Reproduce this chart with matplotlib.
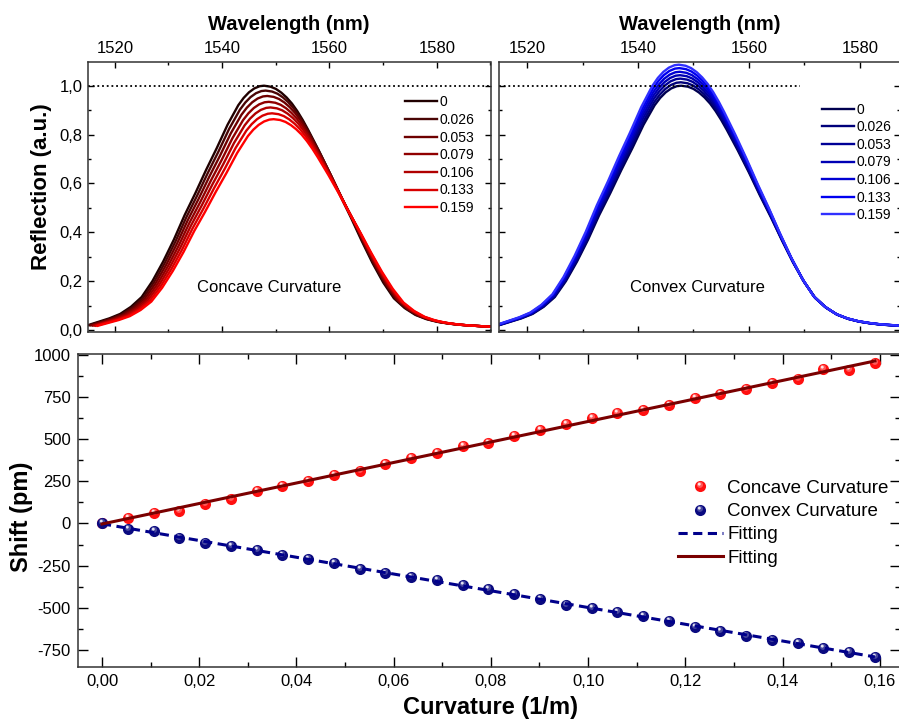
import numpy as np
import matplotlib
matplotlib.use("Agg")
import matplotlib.pyplot as plt
from matplotlib.ticker import MultipleLocator, FuncFormatter
from matplotlib.path import Path
from matplotlib.legend_handler import HandlerTuple

plt.rcParams['font.family'] = ['Liberation Sans', 'DejaVu Sans']
plt.rcParams['axes.unicode_minus'] = False

# reflection spectrum of the unbent grating
base_wl = [1515, 1517, 1519, 1521, 1523, 1525, 1527, 1529, 1531, 1533, 1535, 1537,
           1539, 1541, 1543, 1544, 1545, 1546, 1547, 1547.8, 1549, 1550, 1551, 1552,
           1553, 1554, 1555, 1556, 1558, 1560, 1562, 1564, 1566, 1568, 1570, 1572,
           1574, 1576, 1578, 1580, 1582, 1584, 1586, 1588, 1590]
base_r = [0.020, 0.034, 0.048, 0.066, 0.095, 0.135, 0.200, 0.280, 0.370, 0.470, 0.560, 0.655,
          0.745, 0.840, 0.920, 0.950, 0.973, 0.989, 0.998, 1.000, 0.996, 0.987, 0.972, 0.952,
          0.927, 0.896, 0.860, 0.820, 0.735, 0.645, 0.550, 0.460, 0.365, 0.275, 0.195, 0.130,
          0.090, 0.062, 0.045, 0.034, 0.027, 0.022, 0.019, 0.016, 0.014]
base_peak_wl = 1547.8

legend_labels = ['0', '0.026', '0.053', '0.079', '0.106', '0.133', '0.159']

# concave: peak position / height of each spectrum
concave_peak_wl = [1547.8, 1548.1, 1548.4, 1548.7, 1549.0, 1549.3, 1549.6]
concave_peak_r = [1.000, 0.980, 0.958, 0.934, 0.911, 0.887, 0.863]
concave_colors = ['#200000', '#4a0505', '#6e0000', '#900000', '#b00000', '#d80000', '#ff0000']

# convex
convex_peak_wl = [1547.8, 1547.73, 1547.66, 1547.59, 1547.52, 1547.45, 1547.38]
convex_peak_r = [1.000, 1.014, 1.029, 1.043, 1.057, 1.072, 1.086]
convex_colors = ['#000050', '#00007a', '#000096', '#0000b4', '#0000d2', '#0000f0', '#3030ff']

# wavelength shift vs curvature
curvature = [0.0000, 0.0053, 0.0106, 0.0159, 0.0212, 0.0265, 0.0318, 0.0371, 0.0424, 0.0477,
             0.0530, 0.0583, 0.0636, 0.0689, 0.0742, 0.0795, 0.0848, 0.0901, 0.0954, 0.1007,
             0.1060, 0.1113, 0.1166, 0.1219, 0.1272, 0.1325, 0.1378, 0.1431, 0.1484, 0.1537,
             0.1590]
concave_shift = [0, 35, 65, 75, 113, 148, 192, 221, 253, 285, 312, 352, 389, 417, 462, 480,
                 516, 553, 589, 624, 654, 670, 705, 745, 767, 796, 832, 854, 917, 909, 953]
convex_shift = [0, -34, -47, -89, -117, -136, -158, -184, -211, -233, -267, -292, -320, -336,
                -366, -389, -419, -445, -482, -502, -522, -551, -579, -613, -640, -668, -690,
                -711, -739, -763, -790]

W, H = 899, 725
fig = plt.figure(figsize=(W / 100, H / 100), dpi=100)
ax1 = fig.add_axes([88 / W, 1 - 332 / H, 402.5 / W, 270 / H])
ax2 = fig.add_axes([499.3 / W, 1 - 332 / H, 400.5 / W, 270 / H])
ax3 = fig.add_axes([77.7 / W, 1 - 667 / H, 822 / W, 312.7 / H])

comma = FuncFormatter(lambda v, p: ('%.1f' % v).replace('.', ','))
comma2 = FuncFormatter(lambda v, p: ('%.2f' % v).replace('.', ','))

bw = np.array(base_wl)
br = np.array(base_r)


def spectra_panel(ax, peaks_wl, peaks_r, colors, xmax, dot_end, title, tx):
    for pw, pr, c, lab in zip(peaks_wl, peaks_r, colors, legend_labels):
        ax.plot(bw + (pw - base_peak_wl), br * pr, color=c, lw=1.7, label=lab)
    ax.plot([1515, dot_end], [1, 1], color='black', lw=1.3, ls=(0, (1, 1.6)))
    ax.set_xlim(1515, xmax)
    ax.set_ylim(-0.008, 1.097)
    ax.xaxis.set_major_locator(MultipleLocator(20))
    ax.xaxis.set_minor_locator(MultipleLocator(10))
    ax.yaxis.set_major_locator(MultipleLocator(0.2))
    ax.yaxis.set_minor_locator(MultipleLocator(0.1))
    ax.tick_params(which='both', direction='in', top=True, bottom=True, left=True, right=True,
                   labeltop=True, labelbottom=False, labelsize=12, pad=4)
    ax.tick_params(which='major', length=4.5, width=1)
    ax.tick_params(which='minor', length=2.5, width=1)
    ax.xaxis.set_label_position('top')
    ax.set_xlabel('Wavelength (nm)', fontsize=14.5, fontweight='bold', labelpad=8)
    ax.text(tx, 0.176, title, fontsize=12, ha='center', va='center')
    for s in ax.spines.values():
        s.set_linewidth(1.1)
        s.set_color('#333333')


spectra_panel(ax1, concave_peak_wl, concave_peak_r, concave_colors, 1590, 1590,
              'Concave Curvature', 1548.7)
spectra_panel(ax2, convex_peak_wl, convex_peak_r, convex_colors, 1587.2, 1569.2,
              'Convex Curvature', 1550.7)
ax1.yaxis.set_major_formatter(comma)
ax1.set_ylabel('Reflection (a.u.)', fontsize=16, fontweight='bold')
ax1.yaxis.set_label_coords(-0.0894, 0.537)
ax2.tick_params(labelleft=False)

leg_kw = dict(frameon=False, fontsize=10, handlelength=2.3, handletextpad=0.2,
              labelspacing=0.26, borderpad=0, borderaxespad=0, loc='center left')
ax1.legend(bbox_to_anchor=(0.787, 0.655), **leg_kw)
ax2.legend(bbox_to_anchor=(0.806, 0.628), **leg_kw)

# glossy ball highlight marker
circ = Path.circle((-0.22, 0.42), 0.26)
hl = Path(np.vstack([[[-1, -1], [1, 1]], circ.vertices]),
          np.concatenate([[Path.MOVETO, Path.MOVETO], circ.codes]))
circ2 = Path.circle((-0.1, 0.3), 0.55)
hl2 = Path(np.vstack([[[-1, -1], [1, 1]], circ2.vertices]),
           np.concatenate([[Path.MOVETO, Path.MOVETO], circ2.codes]))

ms = 8
c_red = ax3.plot(curvature, concave_shift, 'o', color='#ff1010', ms=ms, mew=0, zorder=3)[0]
c_red2 = ax3.plot(curvature, concave_shift, marker=hl2, ls='none', color='white', alpha=0.3,
                  ms=ms, mew=0, zorder=3)[0]
c_red3 = ax3.plot(curvature, concave_shift, marker=hl, ls='none', color='white', alpha=0.85,
                  ms=ms, mew=0, zorder=3)[0]
c_blu = ax3.plot(curvature, convex_shift, 'o', color='#0a0a80', ms=ms, mew=0, zorder=3)[0]
c_blu2 = ax3.plot(curvature, convex_shift, marker=hl2, ls='none', color='white', alpha=0.25,
                  ms=ms, mew=0, zorder=3)[0]
c_blu3 = ax3.plot(curvature, convex_shift, marker=hl, ls='none', color='white', alpha=0.85,
                  ms=ms, mew=0, zorder=3)[0]

cx = np.array(curvature)
p_red = np.polyfit(cx, concave_shift, 1)
p_blu = np.polyfit(cx, convex_shift, 1)
fx = np.array([cx[0], cx[-1]])
f_blu = ax3.plot(fx, np.polyval(p_blu, fx), color='#00008b', lw=2.2, dashes=(3, 1.8), zorder=4)[0]
f_red = ax3.plot(fx, np.polyval(p_red, fx), color='#7a0000', lw=2.2, zorder=4)[0]

ax3.set_xlim(-0.005, 0.1641)
ax3.set_ylim(-851, 1003)
ax3.xaxis.set_major_locator(MultipleLocator(0.02))
ax3.xaxis.set_minor_locator(MultipleLocator(0.01))
ax3.yaxis.set_major_locator(MultipleLocator(250))
ax3.yaxis.set_minor_locator(MultipleLocator(125))
ax3.xaxis.set_major_formatter(comma2)
ax3.tick_params(which='both', direction='in', top=True, bottom=True, left=True, right=True,
                labelsize=12, pad=5)
ax3.tick_params(which='major', length=7.5, width=1)
ax3.tick_params(which='minor', length=3.7, width=1)
for s in ax3.spines.values():
    s.set_linewidth(1.1)
    s.set_color('#333333')
ax3.set_xlabel('Curvature (1/m)', fontsize=17, fontweight='bold')
ax3.xaxis.set_label_coords(0.502, -0.094)
ax3.set_ylabel('Shift (pm)', fontsize=17, fontweight='bold')
ax3.yaxis.set_label_coords(-0.0544, 0.48)

ax3.legend([(c_red, c_red2, c_red3), (c_blu, c_blu2, c_blu3), f_blu, f_red],
           ['Concave Curvature', 'Convex Curvature', 'Fitting', 'Fitting'],
           handler_map={tuple: HandlerTuple(ndivide=1, pad=0)},
           frameon=False, fontsize=13.5, handlelength=2.4, handletextpad=0.25,
           labelspacing=0.33, borderpad=0, borderaxespad=0,
           loc='center left', bbox_to_anchor=(0.73, 0.46))

fig.savefig('out.png', dpi=100)
